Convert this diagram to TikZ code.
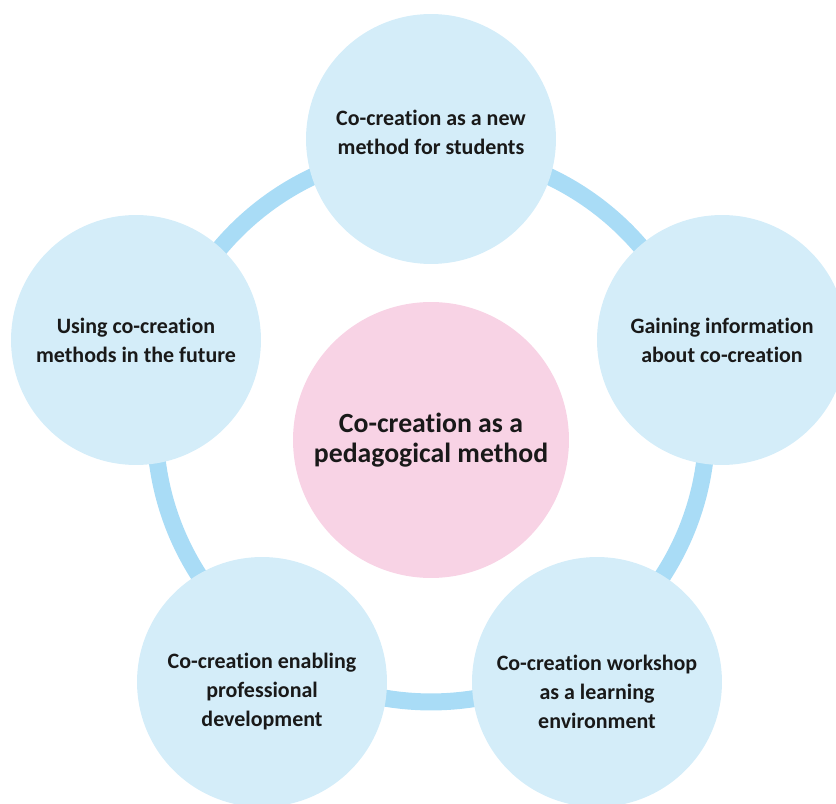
\documentclass[tikz,border=0pt]{standalone}
\usepackage{fontspec}
\setmainfont[RawFeature=-liga]{Carlito}
\definecolor{topicblue}{HTML}{D4EDF9}
\definecolor{ringblue}{HTML}{A9DCF6}
\definecolor{corepink}{HTML}{F8D3E5}

\begin{document}
\begin{tikzpicture}[x=0.02cm, y=-0.02cm,
  every node/.style={font=\bfseries\fontsize{12.5}{16.5}\selectfont, align=center, text=black!90},
  topic/.style={circle, fill=topicblue, minimum size=5cm, inner sep=0pt},
  caption/.style={font=\bfseries\fontsize{12.5}{16.5}\selectfont, align=center},
  core/.style={circle, fill=corepink, minimum size=5.52cm, inner sep=0pt, font=\bfseries\fontsize{15.8}{16.8}\selectfont},
  ring/.style={draw=ringblue, line width=0.34cm}]
  \useasboundingbox (0,0) rectangle (836,804);
  \coordinate (hub) at (431,426);
  \draw[ring] (hub) circle (5.52cm);
  \node[core] (core) at (431,440) {Co-creation as a\\pedagogical method};
  \node[topic, label={[caption, yshift=0.14cm]center:Co-creation as a new\\method for students}] (newmethod) at (431,139) {};
  \node[topic] (gaining) at (722,340) {Gaining information\\about co-creation};
  \node[topic, label={[caption, yshift=-0.2cm]center:Co-creation workshop\\as a learning\\environment}] (workshop) at (597,682) {};
  \node[topic, label={[caption, yshift=-0.2cm]center:Co-creation enabling\\professional\\development}] (enabling) at (262,682) {};
  \node[topic] (future) at (136,340) {Using co-creation\\methods in the future};
\end{tikzpicture}
\end{document}
